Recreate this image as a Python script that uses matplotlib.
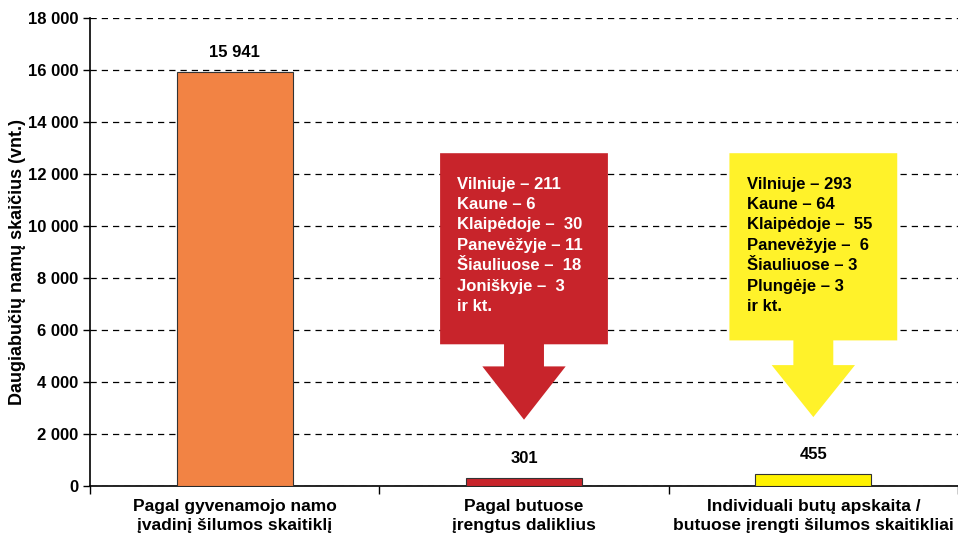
import matplotlib
matplotlib.use("Agg")
import matplotlib.pyplot as plt
from matplotlib.patches import Polygon
from matplotlib.ticker import FuncFormatter, FixedLocator

# duomenys
kategorijos = ["Pagal gyvenamojo namo\nįvadinį šilumos skaitiklį",
               "Pagal butuose\nįrengtus daliklius",
               "Individuali butų apskaita /\nbutuose įrengti šilumos skaitikliai"]
reiksmes = [15941, 301, 455]
etiketes = ["15 941", "301", "455"]
spalvos = ["#F28344", "#C8242B", "#FFF200"]

raudona_info = ["Vilniuje – 211", "Kaune – 6", "Klaipėdoje –  30", "Panevėžyje – 11",
                "Šiauliuose –  18", "Joniškyje –  3", "ir kt."]
geltona_info = ["Vilniuje – 293", "Kaune – 64", "Klaipėdoje –  55", "Panevėžyje –  6",
                "Šiauliuose – 3", "Plungėje – 3", "ir kt."]

plt.rcParams['font.family'] = ['Liberation Sans Narrow', 'Liberation Sans', 'DejaVu Sans']
plt.rcParams['font.weight'] = 'bold'

fig = plt.figure(figsize=(9.58, 5.39), dpi=100)
ax = fig.add_axes([90/958, 1-486/539, 1-90/958, 468/539])

x = range(len(reiksmes))
ax.bar(x, reiksmes, width=0.4, color=spalvos, edgecolor="#333333", linewidth=0.8, zorder=3)
for i, v in enumerate(reiksmes):
    ax.text(i, v + 450, etiketes[i], ha="center", va="bottom", fontsize=12, fontweight="bold")

ax.set_xlim(-0.5, 2.5)
ax.set_ylim(0, 18000)
ax.set_yticks(range(0, 18001, 2000))
ax.yaxis.set_major_formatter(FuncFormatter(lambda v, p: f"{int(v):,}".replace(",", " ")))
ax.grid(axis="y", color="black", linestyle=(0, (5, 4)), linewidth=0.9, zorder=0)
ax.set_axisbelow(True)

ax.set_xticks(list(x))
ax.set_xticklabels(kategorijos, fontsize=12.5, fontweight="bold", linespacing=1.4)
ax.tick_params(axis="x", length=0, pad=9)
ax.xaxis.set_minor_locator(FixedLocator([-0.5, 0.5, 1.5, 2.5]))
ax.tick_params(axis="x", which="minor", length=6, width=1)
ax.tick_params(axis="y", length=5, width=1, labelsize=12)
for lbl in ax.get_yticklabels():
    lbl.set_fontweight("bold")

ax.spines["top"].set_visible(False)
ax.spines["right"].set_visible(False)
ax.spines["left"].set_linewidth(1.2)
ax.spines["bottom"].set_linewidth(1.2)
fig.text(18/958, 1-262/539, "Daugiabučių namų skaičius (vnt.)", rotation=90,
         ha="center", va="center", fontsize=13, fontweight="bold")


def rodykle(cx, virsus, apacia, galva, smaigalys, spalva):
    bw, sw, hw = 0.29, 0.069, 0.144
    pts = [(cx - bw, virsus), (cx + bw, virsus), (cx + bw, apacia), (cx + sw, apacia),
           (cx + sw, galva), (cx + hw, galva), (cx, smaigalys), (cx - hw, galva),
           (cx - sw, galva), (cx - sw, apacia), (cx - bw, apacia)]
    ax.add_patch(Polygon(pts, closed=True, facecolor=spalva, edgecolor="none", zorder=4))


rodykle(1.0, 12800, 5450, 4600, 2550, "#C8242B")
rodykle(2.0, 12800, 5600, 4650, 2650, "#FFF22A")

for i, (info, tc) in enumerate([(raudona_info, "white"), (geltona_info, "black")]):
    ax.text(i + 1 - 0.23, 11900, "\n".join(info), ha="left", va="top", fontsize=12,
            fontweight="bold", color=tc, linespacing=1.45, zorder=5)

fig.savefig("out.png", dpi=100)
